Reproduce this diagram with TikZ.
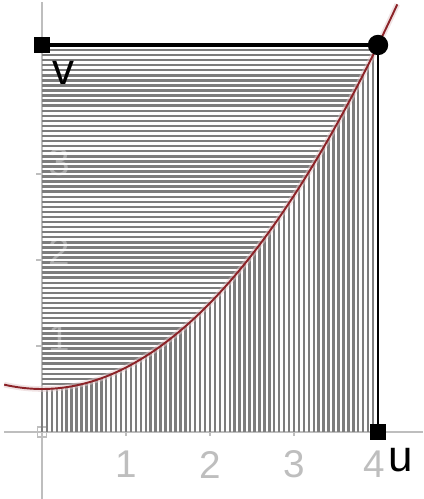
\documentclass[tikz,border=0pt]{standalone}
\usepackage{fontspec}
\setmainfont{Liberation Sans}
\usepackage{tikz}
\definecolor{curvered}{RGB}{140,35,40}
\definecolor{axisgray}{RGB}{190,190,190}
\definecolor{hatchgray}{RGB}{125,125,125}
\tikzset{axis/.style={axisgray, line width=0.45pt},
         hatch/.style={hatchgray, line width=0.7pt},
         ticklabel/.style={axisgray, font=\fontsize{11}{13}\selectfont},
         varlabel/.style={black, font=\fontsize{12.5}{14}\selectfont}}

\begin{document}
\begin{tikzpicture}[x=0.84cm, y=0.86cm]
\useasboundingbox (-0.5,-0.779) rectangle (4.536,5.023);
% axes
\draw [axis] (-0.45,0) -- (4.536,0);
\draw [axis] (0,-0.779) -- (0,5.0);
\draw [axis] (-0.055,-0.055) rectangle (0.055,0.055);
\foreach \t in {1,2,3} {
  \draw [axis] (\t,0) -- (\t,-0.05);
  \draw [axis] (0,\t) -- (-0.07,\t);
}
\draw [ticklabel] (1,-0.38) node {1};
\draw [ticklabel] (2,-0.38) node {2};
\draw [ticklabel] (3,-0.38) node {3};
\draw [ticklabel] (3.95,-0.38) node {4};
% hatching
\foreach \i in {1,...,67} {
  \pgfmathsetmacro\vv{0.5+\i/17}
  \pgfmathsetmacro\uu{2*sqrt(\vv-0.5)}
  \draw [hatch] (0,\vv) -- (\uu,\vv);
}
\foreach \i in {0,...,67} {
  \pgfmathsetmacro\uu{\i/17}
  \pgfmathsetmacro\vv{0.5+\uu*\uu/4}
  \draw [hatch] (\uu,0) -- (\uu,\vv);
}
% faint labels under the hatching
\draw [white, opacity=0.35, font=\fontsize{11}{13}\selectfont] (0.21,1.09) node {1};
\draw [white, opacity=0.35, font=\fontsize{11}{13}\selectfont] (0.21,2.09) node {2};
\draw [white, opacity=0.35, font=\fontsize{11}{13}\selectfont] (0.21,3.14) node {3};
% curve
\draw [curvered!25, line width=1.6pt, opacity=0.5] plot [domain=-0.45:4.23, samples=80] (\x,{0.5+\x*\x/4});
\draw [curvered, line width=0.55pt] plot [domain=-0.45:4.23, samples=80] (\x,{0.5+\x*\x/4});
% rectangle
\draw [black, line width=0.9pt] (0,4.5) -- (4,4.5);
\draw [black, line width=0.6pt] (4,4.5) -- (4,0);
\draw [black] (0,4.5) node [rectangle,fill,inner sep=0pt,minimum size=4.8pt]{};
\draw [black] (4,0) node [rectangle,fill,inner sep=0pt,minimum size=4.8pt]{};
\draw [black] (4,4.5) node [circle,fill,inner sep=0pt,minimum size=5.8pt]{};
\draw [varlabel] (0.25,4.17) node {v};
\draw [varlabel] (4.27,-0.33) node {u};
\end{tikzpicture}
\end{document}
